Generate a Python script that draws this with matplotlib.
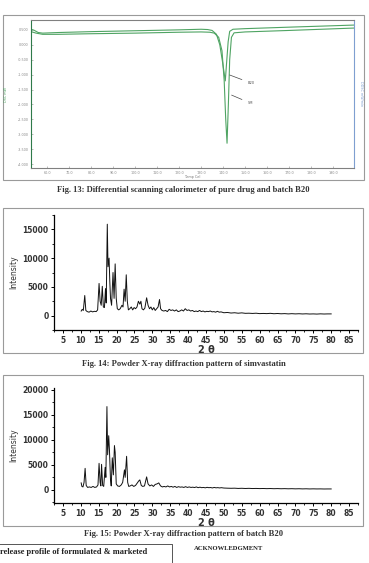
import numpy as np
import matplotlib
matplotlib.use("Agg")
from matplotlib import pyplot as plt
from matplotlib.patches import Rectangle
from matplotlib.ticker import MultipleLocator

W, H = 369, 563

# ---- Fig 13 DSC data (temp Cel, mW) ----
dsc_temp_sm = [52.7, 55, 58, 65, 80, 100, 120, 130, 134, 136, 138, 139.5, 140.5,
               141.2, 141.8, 142.4, 143.0, 143.8, 145, 150, 170, 199.5]
dsc_sm = [0.44, 0.39, 0.35, 0.35, 0.37, 0.39, 0.42, 0.43, 0.42, 0.39, 0.25, -0.2, -1.2,
          -2.5, -3.30, -2.0, -0.5, 0.25, 0.40, 0.43, 0.48, 0.56]
dsc_temp_b20 = [52.7, 54, 56, 58, 65, 80, 100, 120, 130, 133, 135, 137, 138.5,
                139.8, 141.0, 141.6, 142.3, 143, 144.5, 150, 170, 199.5]
dsc_b20 = [0.52, 0.49, 0.41, 0.39, 0.41, 0.44, 0.47, 0.50, 0.52, 0.51, 0.48, 0.35, 0.0,
           -0.6, -1.21, -0.6, 0.1, 0.45, 0.52, 0.54, 0.59, 0.66]
dsc_xticks = [60, 70, 80, 90, 100, 110, 120, 130, 140, 150, 160, 170, 180, 190]
dsc_yticks = [0.5, 0.0, -0.5, -1.0, -1.5, -2.0, -2.5, -3.0, -3.5, -4.0]

# ---- Fig 14 XRD simvastatin (2 theta, intensity) ----
xrd_sim_2t = [10.1, 10.4, 10.7, 11.1, 11.4, 11.8, 12.3, 12.8, 13.3, 13.8, 14.3, 14.7,
              15.1, 15.4, 15.7, 16.0, 16.3, 16.6, 16.9, 17.1, 17.4, 17.6, 17.9, 18.1,
              18.3, 18.6, 19.0, 19.3, 19.6, 19.9, 20.2, 20.6, 21.0, 21.5, 21.8, 22.1,
              22.4, 22.7, 23.0, 23.3, 23.7, 24.1, 24.5, 24.9, 25.3, 25.7, 26.1, 26.5,
              26.8, 27.1, 27.5, 27.9, 28.4, 28.8, 29.2, 29.6, 30.0, 30.4, 30.8, 31.2,
              31.6, 32.0, 32.3, 32.7, 33.2, 33.7, 34.2, 34.7, 35.2, 35.7, 36.2, 36.7,
              37.2, 37.7, 38.2, 38.7, 39.2, 39.7, 40.2, 40.7, 41.2, 41.7, 42.2, 42.7,
              43.2, 43.7, 44.2, 44.7, 45.2, 45.7, 46.2, 46.7, 47.2, 47.7, 48.2, 48.7,
              49.2, 50, 51, 52, 53, 54, 55, 56, 57, 58, 59, 60, 61, 62, 63, 64, 65,
              66, 67, 68, 69, 70, 71, 72, 73, 74, 75, 76, 77, 78, 79, 80]
xrd_sim = [800, 1100, 900, 3500, 900, 700, 600, 800, 650, 750, 700, 1000,
           5600, 2500, 1800, 5100, 1500, 1400, 4700, 2200, 15900, 8500, 10000, 6000,
           3000, 1800, 7500, 3000, 9000, 3000, 1200, 1000, 1200, 1800, 1500, 4600,
           2500, 7100, 2500, 1000, 1200, 1500, 1000, 1400, 1200, 1500, 2500, 2000,
           2500, 1200, 1000, 1300, 3100, 1800, 1200, 1500, 1000, 1400, 900, 1200,
           1500, 2800, 1200, 900, 800, 900, 700, 1100, 900, 1000, 800, 1000,
           700, 800, 1000, 800, 1200, 900, 1000, 800, 900, 700, 800, 700,
           900, 700, 800, 650, 750, 700, 800, 650, 700, 600, 750, 600,
           650, 500, 550, 450, 500, 420, 480, 400, 420, 380, 420, 350, 380, 350, 400, 330, 370,
           320, 350, 300, 340, 300, 330, 290, 320, 280, 300, 270, 310, 280, 300, 300]

# ---- Fig 15 XRD batch B20 ----
xrd_b20_2t = [10.1, 10.3, 10.6, 10.9, 11.2, 11.5, 11.9, 12.4, 12.9, 13.4, 13.9, 14.4,
              14.8, 15.1, 15.4, 15.6, 15.8, 16.1, 16.4, 16.8, 17.0, 17.3, 17.5, 17.8,
              18.0, 18.3, 18.5, 18.8, 19.1, 19.4, 19.6, 19.9, 20.3, 20.8, 21.3, 21.7,
              22.2, 22.4, 22.8, 23.1, 23.4, 23.8, 24.3, 24.8, 25.3, 25.8, 26.2, 26.5,
              26.9, 27.3, 27.8, 28.4, 28.8, 29.3, 29.8, 30.3, 30.8, 31.3, 31.8, 32.3,
              32.8, 33.3, 33.8, 34.3, 34.8, 35.3, 35.8, 36.3, 36.8, 37.3, 37.8, 38.3,
              38.8, 39.3, 39.8, 40.3, 40.8, 41.3, 41.8, 42.3, 42.8, 43.3, 43.8, 44.3,
              44.8, 45.3, 45.8, 46.3, 46.8, 47.3, 47.8, 48.3, 48.8, 49.3, 50, 51, 52,
              53, 54, 55, 56, 57, 58, 59, 60, 61, 62, 63, 64, 65, 66, 67, 68, 69, 70,
              71, 72, 73, 74, 75, 76, 77, 78, 79, 80]
xrd_b20 = [1400, 700, 600, 1500, 4300, 900, 500, 600, 500, 700, 500, 600,
           1000, 5300, 1500, 800, 5100, 900, 700, 4500, 2500, 16600, 7000, 10800,
           8000, 2000, 800, 6400, 3000, 8800, 7500, 1200, 800, 700, 1000, 1500,
           4000, 2500, 6700, 1500, 700, 800, 1000, 700, 900, 1400, 1800, 2000,
           900, 700, 800, 2600, 1200, 800, 1000, 700, 1100, 1200, 1400, 800,
           600, 700, 600, 800, 600, 700, 550, 700, 500, 650, 550, 600,
           500, 650, 500, 600, 500, 550, 480, 600, 450, 550, 450, 500,
           420, 520, 450, 480, 400, 500, 420, 460, 400, 450, 380, 350, 330,
           350, 300, 330, 290, 320, 280, 300, 270, 290, 260, 280, 250, 270, 240, 260, 230, 250, 220,
           240, 210, 230, 200, 220, 200, 210, 190, 200, 200]
xrd_xticks = list(range(5, 90, 5))


def rect(l, t, r, b):
    return [l / W, 1 - b / H, (r - l) / W, (b - t) / H]


fig = plt.figure(figsize=(W / 100, H / 100), dpi=100)
fig.patch.set_facecolor("white")

# page background: frames, captions, text
bg = fig.add_axes([0, 0, 1, 1], zorder=-5)
bg.set_xlim(0, W)
bg.set_ylim(H, 0)
bg.axis("off")
for (l, t, r, b) in [(3, 15, 364, 180), (3, 208, 363, 353), (3, 375, 363, 526)]:
    bg.add_patch(Rectangle((l, t), r - l, b - t, fill=False, edgecolor="#9a9a9a", lw=0.8))
cap = dict(ha="center", va="center", fontsize=6.1, fontweight="bold",
           family="Liberation Serif", color="#333333")
bg.text(183, 190, "Fig. 13: Differential scanning calorimeter of pure drug and batch B20", **cap)
bg.text(184, 364, "Fig. 14: Powder X-ray diffraction pattern of simvastatin", **cap)
bg.text(184, 534, "Fig. 15: Powder X-ray diffraction pattern of batch B20", **cap)
bg.plot([0, 172, 172], [544, 544, 563], color="#555555", lw=0.7)
bg.text(0.5, 552, "release profile of formulated & marketed", ha="left", va="center",
        fontsize=6.0, fontweight="bold", family="Liberation Serif", color="#222222")
bg.text(194, 548, "ACKNOWLEDGMENT", ha="left", va="center",
        fontsize=4.8, fontweight="bold", family="Liberation Serif", color="#222222")

# ---- Fig 13 DSC ----
ax = fig.add_axes(rect(31, 20, 354, 168))
ax.plot(dsc_temp_sm, dsc_sm, color="#4fa463", lw=0.8)
ax.plot(dsc_temp_b20, dsc_b20, color="#4fa463", lw=0.8)
ax.set_xlim(52.7, 199.5)
ax.set_ylim(-4.13, 0.83)
ax.set_xticks(dsc_xticks)
ax.set_xticklabels(["%.1f" % v for v in dsc_xticks])
ax.set_yticks(dsc_yticks)
ax.set_yticklabels(["%.3f" % v for v in dsc_yticks])
ax.tick_params(direction="in", length=1.5, width=0.4, labelsize=2.4, colors="#8a8a8a", pad=2)
ax.spines["left"].set_color("#2f7a4a")
ax.spines["right"].set_color("#7f9fd0")
ax.spines["top"].set_color("#808080")
ax.spines["bottom"].set_color("#808080")
for s in ax.spines.values():
    s.set_linewidth(0.8)
ax.set_xlabel("Temp Cel", fontsize=2.4, color="#777777", labelpad=0.5)
ax.set_ylabel("DSC mW", fontsize=2.4, color="#4fa463", labelpad=7)
ax.text(1.015, 0.5, "DDSC mW/min", transform=ax.transAxes, rotation=270, fontsize=2.4,
        color="#7f9fd0", ha="left", va="center")
ax.annotate("B20", xy=(141.8, -0.98), xytext=(151.0, -1.28), fontsize=2.6, color="#555555",
            va="center", arrowprops=dict(arrowstyle="-", color="#444444", lw=0.5))
ax.annotate("SM", xy=(142.7, -1.65), xytext=(151.0, -1.95), fontsize=2.6, color="#555555",
            va="center", arrowprops=dict(arrowstyle="-", color="#444444", lw=0.5))


def xrd_axes(r, x, y, ylim, yticks):
    a = fig.add_axes(r)
    a.plot(x, y, color="#111111", lw=0.7)
    a.set_xlim(2.5, 87.5)
    a.set_ylim(*ylim)
    a.set_xticks(xrd_xticks)
    a.xaxis.set_minor_locator(MultipleLocator(2.5))
    a.set_yticks(yticks)
    a.yaxis.set_minor_locator(MultipleLocator(2500))
    a.spines["top"].set_visible(False)
    a.spines["right"].set_visible(False)
    for s in ("left", "bottom"):
        a.spines[s].set_linewidth(0.9)
    a.tick_params(which="major", direction="out", length=2.5, width=0.7, labelsize=5.5, pad=1.5)
    a.tick_params(which="minor", direction="out", length=1.5, width=0.6)
    for lab in a.get_xticklabels() + a.get_yticklabels():
        lab.set_fontweight("bold")
        lab.set_color("#333333")
    a.set_xlabel("2 \u03b8", fontsize=7, fontweight="bold", color="#333333", labelpad=0)
    a.set_ylabel("Intensity", fontsize=5.5, color="#333333", labelpad=3)
    return a


xrd_axes(rect(54, 215, 358, 330), xrd_sim_2t, xrd_sim, (-2500, 17500), [0, 5000, 10000, 15000])
xrd_axes(rect(54, 388, 358, 503), xrd_b20_2t, xrd_b20, (-2600, 20300), [0, 5000, 10000, 15000, 20000])

fig.savefig("out.png", dpi=100)
